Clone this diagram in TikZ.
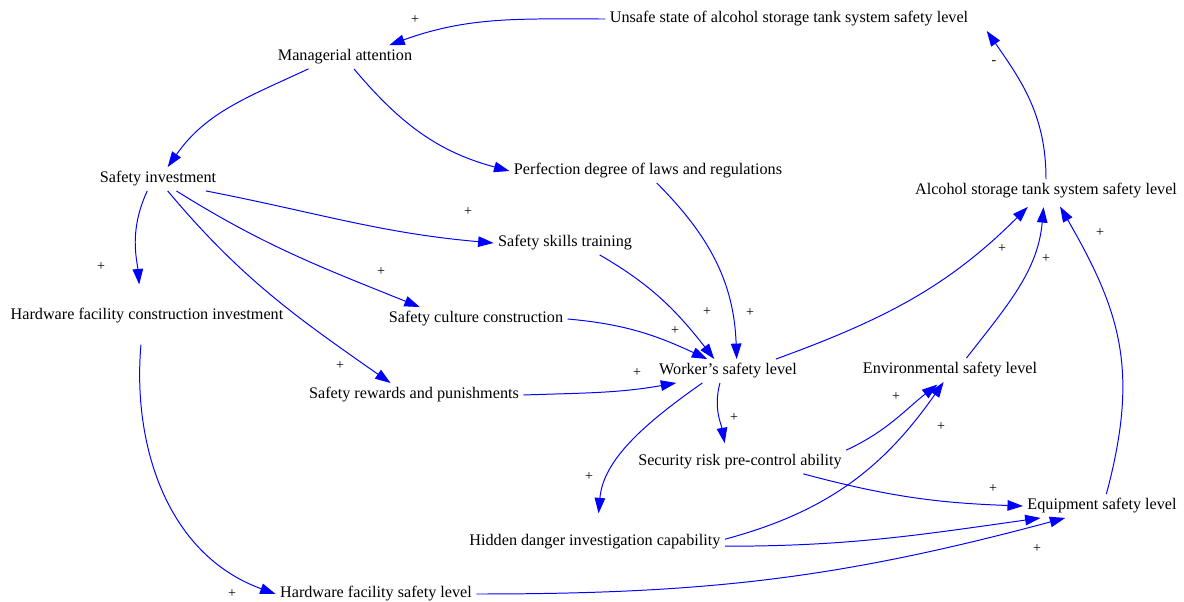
\documentclass[tikz,border=0pt]{standalone}
\usepackage{fontspec}
\setmainfont{Liberation Serif}
\definecolor{linkblue}{RGB}{0, 0, 255}
\usetikzlibrary{arrows.meta}
\tikzset{
  var/.style={inner sep=3pt, font=\fontsize{11.5}{13}\selectfont},
  link/.style={draw=linkblue, line width=0.7pt, -{Triangle[length=11pt, width=7.5pt]}},
  polar/.style={inner sep=0pt, font=\fontsize{10}{11}\selectfont}
}

\begin{document}
\begin{tikzpicture}[x=0.025cm, y=0.025cm]
  \useasboundingbox (0,0) rectangle (1184,601);

  % variables
  \node[var] (unsafe) at (789,582) {Unsafe state of alcohol storage tank system safety level};
  \node[var] (manage) at (345,544) {Managerial attention};
  \node[var] (invest) at (158,422) {Safety investment};
  \node[var] (laws) at (648,430) {Perfection degree of laws and regulations};
  \node[var] (alcohol) at (1046,410) {Alcohol storage tank system safety level};
  \node[var] (skills) at (565,358) {Safety skills training};
  \node[var] (hwinv) at (147,285) {Hardware facility construction investment};
  \node[var] (culture) at (476,282) {Safety culture construction};
  \node[var] (worker) at (728,230) {Worker's safety level};
  \node[var] (envir) at (950,231) {Environmental safety level};
  \node[var] (reward) at (414,206) {Safety rewards and punishments};
  \node[var] (risk) at (740,139) {Security risk pre-control ability};
  \node[var] (equip) at (1102,95) {Equipment safety level};
  \node[var] (hidden) at (595,59) {Hidden danger investigation capability};
  \node[var] (hwsafe) at (376,7) {Hardware facility safety level};

  % causal links
  \draw[link] (unsafe.west) to[out=180, in=20] (manage.15);
  \draw[link] (manage.198) to[out=205, in=55] (invest.51);
  \draw[link] (manage.-53) to[out=-50, in=165] (laws.west);
  \draw[link, shorten >=14pt] (invest.228) to[out=245, in=95] (hwinv.117);
  \draw[link] (invest.-14) to[out=-11, in=175] (skills.west);
  \draw[link] (invest.-33) to[out=-32, in=158] (culture.168);
  \draw[link] (invest.-51) to[out=-50, in=145] (reward.153);
  \draw[link] (laws.-54) to[out=-45, in=92] (worker.54);
  \draw[link] (skills.-19) to[out=-30, in=128] (worker.139);
  \draw[link] (culture.east) to[out=-5, in=155] (worker.150);
  \draw[link] (reward.east) to[out=2, in=190] (worker.193);
  \draw[link, shorten >=4pt] (worker.14) to[out=20, in=225] (alcohol.220);
  \draw[link, shorten >=5pt] (worker.236) to[out=255, in=100] (risk.140);
  \draw[link, shorten >=12pt] (worker.205) to[out=215, in=85] (hidden.80);
  \draw[link, shorten >=3pt] (risk.north east) to[out=25, in=218] (envir.232);
  \draw[link] ([xshift=45pt]risk.south) to[out=-15, in=178] (equip.west);
  \draw[link] ([yshift=2pt]hidden.east) to[out=15, in=235] (envir.242);
  \draw[link] ([yshift=-3pt]hidden.east) to[out=0, in=188] (equip.191);
  \draw[link] (hwsafe.east) to[out=0, in=195] (equip.198);
  \draw[link, shorten <=12pt] (hwinv.249) to[out=265, in=160] (hwsafe.west);
  \draw[link, shorten >=3pt] (envir.36) to[out=52, in=265] (alcohol.260);
  \draw[link, shorten >=3pt] (equip.70) to[out=75, in=-60, looseness=1.1] (alcohol.-45);
  \draw[link] (alcohol.north) to[out=90, in=-55] ([xshift=10pt]unsafe.south east);

  % polarities
  \node[polar] (p1) at (415,581) {+};
  \node[polar] (p2) at (101,334) {+};
  \node[polar] (p3) at (468,389) {+};
  \node[polar] (p4) at (381,329) {+};
  \node[polar] (p5) at (340,235) {+};
  \node[polar] (p6) at (750,288) {+};
  \node[polar] (p7) at (707,289) {+};
  \node[polar] (p8) at (675,270) {+};
  \node[polar] (p9) at (637,228) {+};
  \node[polar] (p10) at (1002,352) {+};
  \node[polar] (p11) at (734,183) {+};
  \node[polar] (p12) at (589,124) {+};
  \node[polar] (p13) at (896,204) {+};
  \node[polar] (p14) at (993,112) {+};
  \node[polar] (p15) at (941,174) {+};
  \node[polar] (p16) at (1037,52) {+};
  \node[polar] (p17) at (232,7) {+};
  \node[polar] (p18) at (1046,342) {+};
  \node[polar] (p19) at (1100,368) {+};
  \node[polar] (p20) at (994,538) {-};
\end{tikzpicture}
\end{document}
